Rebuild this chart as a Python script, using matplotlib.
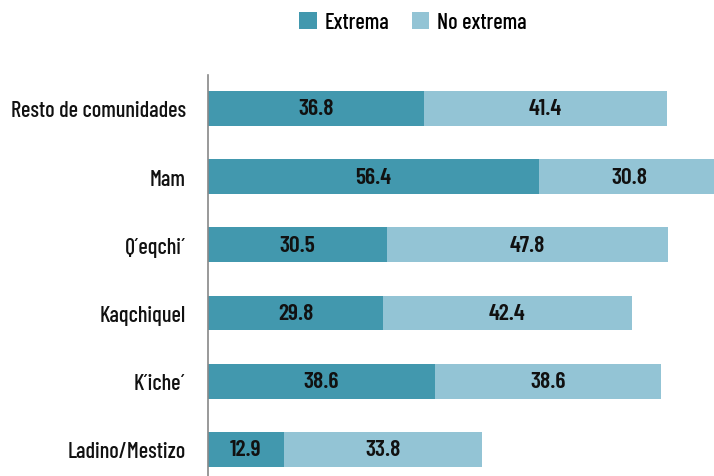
import matplotlib
matplotlib.use("Agg")
import matplotlib.pyplot as plt
import numpy as np

# data (bottom to top)
groups = ["Ladino/Mestizo", "K´iche´", "Kaqchiquel", "Q´eqchi´", "Mam", "Resto de comunidades"]
extrema = [12.9, 38.6, 29.8, 30.5, 56.4, 36.8]
no_extrema = [33.8, 38.6, 42.4, 47.8, 30.8, 41.4]

C_EXT = "#4298ae"
C_NOEXT = "#93c4d5"
TXT = "#111111"
FS = 16

plt.rcParams["font.family"] = ["Barlow Condensed", "DejaVu Sans"]
plt.rcParams["font.weight"] = 500

fig = plt.figure(figsize=(7.14, 4.77), dpi=100)
ax = fig.add_axes([208 / 714, 0, 1 - 208 / 714, (477 - 76) / 477])

y = np.arange(len(groups))
h = 0.51
b1 = ax.barh(y, extrema, height=h, color=C_EXT, label="Extrema")
b2 = ax.barh(y, no_extrema, left=extrema, height=h, color=C_NOEXT, label="No extrema")

for i in range(len(groups)):
    ax.text(extrema[i] / 2, y[i], f"{extrema[i]:.1f}", ha="center", va="center",
            fontsize=17, fontweight=600, color=TXT)
    ax.text(extrema[i] + no_extrema[i] / 2, y[i], f"{no_extrema[i]:.1f}", ha="center",
            va="center", fontsize=17, fontweight=600, color=TXT)

ax.set_xlim(0, 506 / 5.87)
ax.set_ylim(-0.39, 5.49)
ax.set_yticks(y)
ax.set_yticklabels(groups, fontsize=FS, color=TXT)
ax.tick_params(axis="y", length=0, pad=16)
ax.set_xticks([])
for s in ["top", "right", "bottom"]:
    ax.spines[s].set_visible(False)
ax.spines["left"].set_color("#888888")
ax.spines["left"].set_linewidth(1.2)

fig.legend(handles=[b1, b2], loc="center", bbox_to_anchor=(413 / 714, 1 - 23 / 477),
           ncol=2, frameon=False, handlelength=0.8, handleheight=0.8,
           handletextpad=0.35, columnspacing=1.0,
           prop={"family": ["Barlow Condensed", "DejaVu Sans"], "size": FS, "weight": 500})

fig.savefig("out.png", dpi=100)
